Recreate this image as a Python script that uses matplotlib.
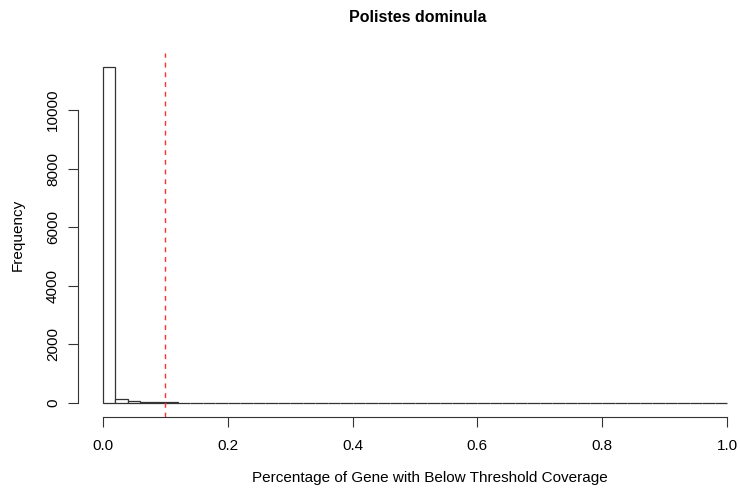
import numpy as np
import matplotlib.pyplot as plt

plt.rcParams['font.family'] = ['Liberation Sans', 'DejaVu Sans']

# histogram bins (width 0.02) and counts
bin_edges = np.linspace(0, 1, 51)
counts = [11470, 130, 70, 42, 28, 20, 15, 12, 10, 9,
          8, 7, 6, 6, 5, 5, 4, 4, 4, 3,
          3, 3, 3, 3, 2, 2, 2, 2, 2, 2,
          2, 2, 2, 2, 2, 2, 1, 1, 1, 1,
          1, 1, 1, 1, 1, 1, 1, 1, 1, 3]
threshold = 0.1
x_ticks = [0.0, 0.2, 0.4, 0.6, 0.8, 1.0]
y_ticks = [0, 2000, 4000, 6000, 8000, 10000]

fig = plt.figure(figsize=(7.4, 4.9), dpi=100)
ax = fig.add_axes([78 / 740, 1 - 416.5 / 490, 1 - 78 / 740, (416.5 - 53.5) / 490])

ax.hist(bin_edges[:-1], bins=bin_edges, weights=counts,
        facecolor='white', edgecolor='#333333', linewidth=0.9)
ax.axvline(threshold, color='#ff3030', linestyle=(0, (3.5, 3.5)), linewidth=1.0)

ymax = max(counts)
ax.set_xlim(-0.04, (740 - 103) / 624)
ax.set_ylim(-0.04 * ymax, 1.04 * ymax)

for s in ['top', 'right']:
    ax.spines[s].set_visible(False)
ax.spines['left'].set_bounds(0, 10000)
ax.spines['bottom'].set_bounds(0, 1)
ax.spines['left'].set_linewidth(0.8)
ax.spines['bottom'].set_linewidth(0.8)
ax.spines['left'].set_color('#333333')
ax.spines['bottom'].set_color('#333333')

ax.set_xticks(x_ticks)
ax.set_xticklabels(['0.0', '0.2', '0.4', '0.6', '0.8', '1.0'], fontsize=11)
ax.set_yticks(y_ticks)
ax.set_yticklabels([str(v) for v in y_ticks], fontsize=11, rotation=90, va='center')
ax.tick_params(direction='out', length=7, width=0.8, color='#333333', pad=9)
ax.tick_params(axis='y', pad=6)

fig.text(418 / 740, 1 - 18 / 490, 'Polistes dominula', ha='center', va='center',
         fontsize=11.5, fontweight='bold')
fig.text(430 / 740, 1 - 478 / 490, 'Percentage of Gene with Below Threshold Coverage',
         ha='center', va='center', fontsize=11)
fig.text(18 / 740, 1 - 235 / 490, 'Frequency', ha='center', va='center',
         rotation=90, fontsize=11)

fig.savefig('out.png', dpi=100)
